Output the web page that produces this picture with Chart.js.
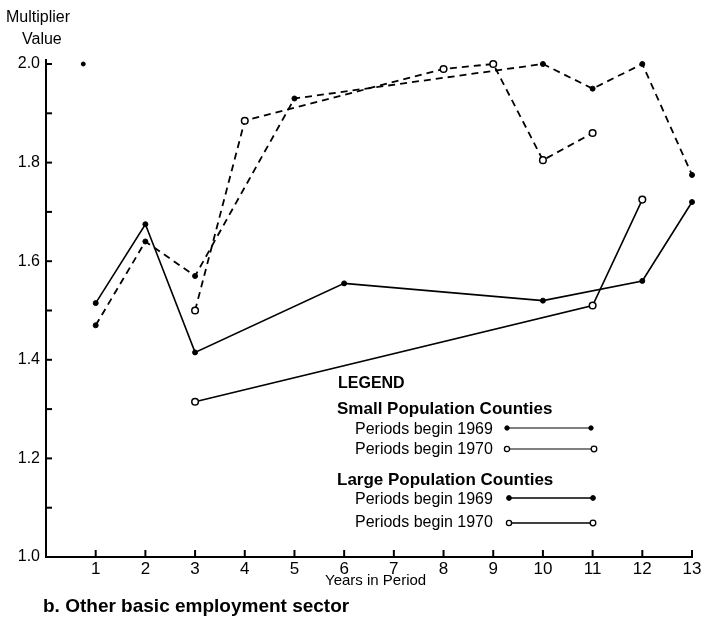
<!DOCTYPE html>
<html>
<head>
<meta charset="utf-8">
<script src="https://cdn.jsdelivr.net/npm/chart.js@4/dist/chart.umd.min.js"></script>
<style>
    body { margin: 0; background: #fff; }
    #wrap { position: relative; width: 705px; height: 621px; font-family: "Liberation Sans", Arial, sans-serif; color: #000; }
    #wrap canvas, #wrap svg { position: absolute; left: 0; top: 0; }
    .t { position: absolute; white-space: nowrap; line-height: 1; }
    .b { font-weight: bold; }
</style>
</head>
<body>
<div id="wrap">
    <canvas id="chart" width="705" height="621"></canvas>
    <div class="t" style="left:6px;top:9px;font-size:16px">Multiplier</div>
    <div class="t" style="left:22px;top:31px;font-size:16px">Value</div>

    <div class="t b" style="left:338px;top:375px;font-size:16px">LEGEND</div>
    <div class="t b" style="left:337px;top:400px;font-size:17px">Small Population Counties</div>
    <div class="t" style="left:355px;top:421px;font-size:16px">Periods begin 1969</div>
    <div class="t" style="left:355px;top:441px;font-size:16px">Periods begin 1970</div>
    <div class="t b" style="left:337px;top:471px;font-size:17px">Large Population Counties</div>
    <div class="t" style="left:355px;top:491px;font-size:16px">Periods begin 1969</div>
    <div class="t" style="left:355px;top:514px;font-size:16px">Periods begin 1970</div>

    <div class="t" style="left:325px;top:572px;font-size:15px;font-family:'Liberation Sans Narrow','Liberation Sans',Arial">Years in Period</div>
    <div class="t b" style="left:43px;top:596px;font-size:19px">b. Other basic employment sector</div>

    <svg width="705" height="621">
        <g stroke="#000" fill="#000">
            <line x1="507" y1="428" x2="591" y2="428" stroke-width="1.2"/>
            <circle cx="507" cy="428" r="2.2"/><circle cx="591" cy="428" r="2.2"/>
            <line x1="507" y1="449" x2="594" y2="449" stroke-width="1.2"/>
            <circle cx="507" cy="449" r="2.6" fill="#fff" stroke-width="1.3"/><circle cx="594" cy="449" r="2.8" fill="#fff" stroke-width="1.3"/>
            <line x1="509" y1="498" x2="593" y2="498" stroke-width="1.6"/>
            <circle cx="509" cy="498" r="2.4"/><circle cx="593" cy="498" r="2.4"/>
            <line x1="509" y1="523" x2="593" y2="523" stroke-width="1.4"/>
            <circle cx="509" cy="523" r="2.6" fill="#fff" stroke-width="1.3"/><circle cx="593" cy="523" r="2.8" fill="#fff" stroke-width="1.3"/>
        </g>
    </svg>
</div>

<script>
const smallYears69 = [1, 2, 3, 5, 10, 11, 12, 13];
const smallValues69 = [1.47, 1.64, 1.57, 1.93, 2.0, 1.95, 2.0, 1.775];
const smallYears70 = [3, 4, 8, 9, 10, 11];
const smallValues70 = [1.5, 1.885, 1.99, 2.0, 1.805, 1.86];
const largeYears69 = [1, 2, 3, 6, 10, 12, 13];
const largeValues69 = [1.515, 1.675, 1.415, 1.555, 1.52, 1.56, 1.72];
const largeYears70 = [3, 11, 12];
const largeValues70 = [1.315, 1.51, 1.725];
const strayYears = [0.75];
const strayValues = [2.0];

const xTickValues = [1, 2, 3, 4, 5, 6, 7, 8, 9, 10, 11, 12, 13];
const yTickValues = [1.0, 1.1, 1.2, 1.3, 1.4, 1.5, 1.6, 1.7, 1.8, 1.9, 2.0];
const yLabelValues = [1.0, 1.2, 1.4, 1.6, 1.8, 2.0];

const pts = (xs, ys) => xs.map((x, i) => ({ x, y: ys[i] }));

// tick marks point inward from the axes, like the printed figure
const tickMarks = {
    id: 'tickMarks',
    afterDraw(chart) {
        const { ctx, chartArea: a, scales: { x, y } } = chart;
        ctx.save();
        ctx.strokeStyle = '#000';
        ctx.lineWidth = 2;
        xTickValues.forEach(v => {
            const px = x.getPixelForValue(v);
            ctx.beginPath();
            ctx.moveTo(px, a.bottom);
            ctx.lineTo(px, a.bottom - 7);
            ctx.stroke();
        });
        yTickValues.forEach(v => {
            const py = y.getPixelForValue(v);
            ctx.beginPath();
            ctx.moveTo(a.left, py);
            ctx.lineTo(a.left + 6, py);
            ctx.stroke();
        });
        // axis runs a little past 2.0
        ctx.beginPath();
        ctx.moveTo(a.left, a.top);
        ctx.lineTo(a.left, a.top - 5);
        ctx.stroke();
        ctx.restore();
    },
};

const filled = { pointRadius: 2.5, pointBackgroundColor: '#000', pointBorderColor: '#000', pointBorderWidth: 1 };
const open = { pointRadius: 3.3, pointBackgroundColor: '#fff', pointBorderColor: '#000', pointBorderWidth: 1.5 };

new Chart(document.getElementById('chart'), {
    type: 'scatter',
    data: {
        datasets: [
            { data: pts(strayYears, strayValues), showLine: false, clip: false, ...filled, pointRadius: 2 },
            { data: pts(smallYears69, smallValues69), showLine: true, clip: false, borderColor: '#000', borderWidth: 1.8, borderDash: [7, 5], ...filled },
            { data: pts(smallYears70, smallValues70), showLine: true, clip: false, borderColor: '#000', borderWidth: 1.8, borderDash: [7, 5], ...open },
            { data: pts(largeYears69, largeValues69), showLine: true, clip: false, borderColor: '#000', borderWidth: 1.6, ...filled },
            { data: pts(largeYears70, largeValues70), showLine: true, clip: false, borderColor: '#000', borderWidth: 1.6, ...open },
        ],
    },
    options: {
        responsive: false,
        animation: false,
        events: [],
        layout: { padding: { top: 64, right: 13, left: 0, bottom: 0 } },
        plugins: { legend: { display: false }, tooltip: { enabled: false } },
        scales: {
            x: {
                type: 'linear', min: 0, max: 13,
                afterFit: s => { s.height = 64; },
                afterBuildTicks: s => { s.ticks = xTickValues.map(value => ({ value })); },
                ticks: {
                    autoSkip: false, maxRotation: 0, padding: 2, color: '#000',
                    font: { family: '"Liberation Sans Narrow", "Liberation Sans", Arial', size: 17 },
                },
                grid: { display: true, drawOnChartArea: false, drawTicks: false },
                border: { display: true, color: '#000', width: 2 },
            },
            y: {
                min: 1, max: 2,
                afterFit: s => { s.width = 46; },
                afterBuildTicks: s => { s.ticks = yLabelValues.map(value => ({ value })); },
                ticks: {
                    padding: 6, color: '#000',
                    font: { family: '"Liberation Sans", Arial', size: 16 },
                    callback: v => v.toFixed(1),
                },
                grid: { display: true, drawOnChartArea: false, drawTicks: false },
                border: { display: true, color: '#000', width: 2 },
            },
        },
    },
    plugins: [tickMarks],
});
</script>
</body>
</html>
